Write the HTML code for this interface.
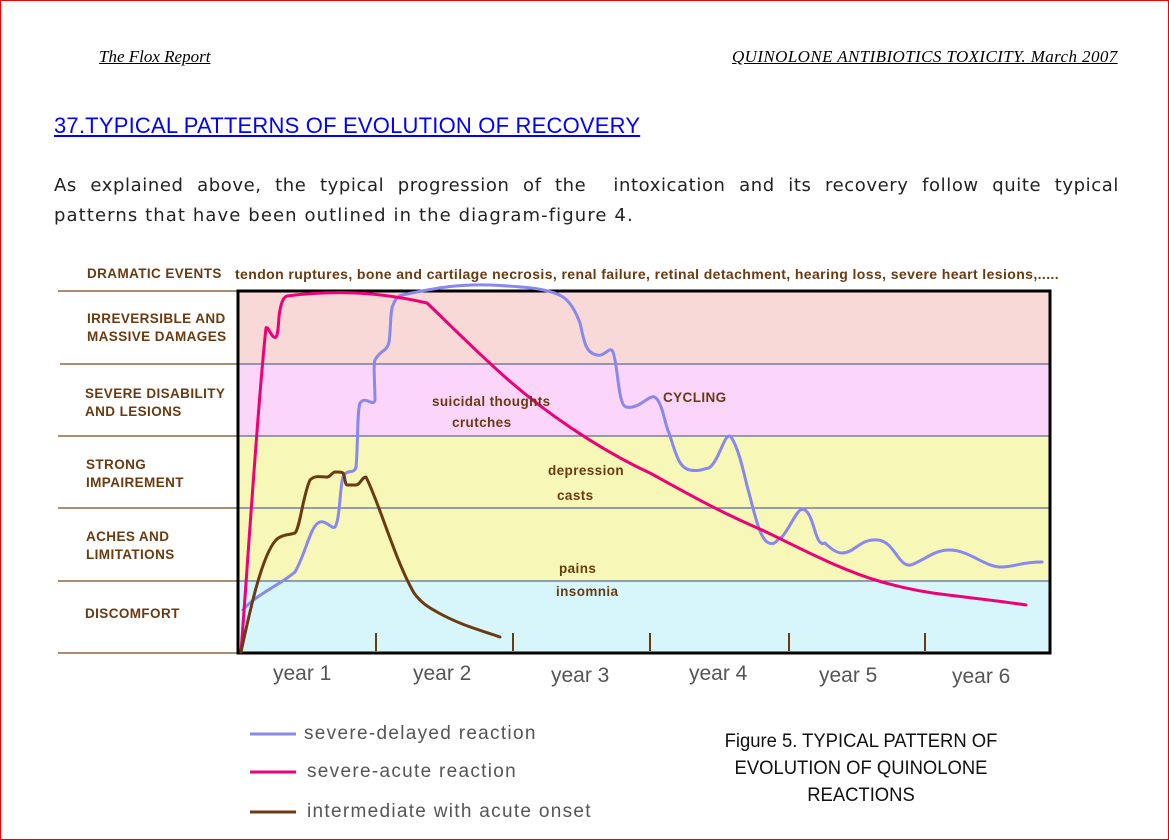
<!DOCTYPE html>
<html><head><meta charset="utf-8"><style>
body{margin:0;background:#fff;}
#p{position:relative;width:1167px;height:838px;border:1px solid #e00;overflow:hidden;font-family:"Liberation Sans",sans-serif;}
.t{position:absolute;white-space:nowrap;}
.s{font-family:"Liberation Serif",serif;font-style:italic;font-size:17px;text-decoration:underline;top:46px;}
.lab{position:absolute;font-weight:bold;font-size:13.5px;color:#6b3a10;line-height:18px;letter-spacing:0.4px;}
.yr{position:absolute;font-size:21px;color:#555;top:661px;}
.lg{position:absolute;font-size:19px;color:#555;letter-spacing:1.3px;}
.para{position:absolute;left:53px;width:1065px;font-family:"DejaVu Sans",sans-serif;font-size:18px;color:#222;letter-spacing:1.1px;}
</style></head><body><div id="p">
<div class="t s" style="left:98px">The Flox Report</div>
<div class="t s" style="left:731px;letter-spacing:0.4px">QUINOLONE ANTIBIOTICS TOXICITY. March 2007</div>
<div class="t" style="left:53px;top:112px;font-size:22px;color:#00f;text-decoration:underline;letter-spacing:0.2px">37.TYPICAL PATTERNS OF EVOLUTION OF RECOVERY</div>
<div class="para" style="top:174px;text-align:justify;text-align-last:justify;letter-spacing:0.6px">As explained above, the typical progression of the &nbsp;intoxication and its recovery follow quite typical</div>
<div class="para" style="top:204px">patterns that have been outlined in the diagram-figure 4.</div>
<svg width="1169" height="840" style="position:absolute;left:-1px;top:-1px">
<rect x="238" y="291" width="812" height="73" fill="#f9d8d8"/>
<rect x="238" y="364" width="812" height="72" fill="#fbd6fa"/>
<rect x="238" y="436" width="812" height="145" fill="#f7f7b8"/>
<rect x="238" y="581" width="812" height="72" fill="#d6f6fc"/>
<g stroke="#5a6a9a" stroke-width="1.3"><line x1="238" y1="364" x2="1050" y2="364"/><line x1="238" y1="436" x2="1050" y2="436"/><line x1="238" y1="508" x2="1050" y2="508"/><line x1="238" y1="581" x2="1050" y2="581"/></g>
<g stroke="#8a6a40" stroke-width="1.5"><line x1="58" y1="291" x2="238" y2="291"/><line x1="60" y1="364" x2="238" y2="364"/><line x1="58" y1="436" x2="238" y2="436"/><line x1="58" y1="508" x2="238" y2="508"/><line x1="58" y1="581" x2="238" y2="581"/><line x1="58" y1="653" x2="238" y2="653"/></g>
<rect x="238" y="291" width="812" height="362" fill="none" stroke="#000" stroke-width="3"/>
<g stroke="#6b3a10" stroke-width="2"><line x1="376" y1="633" x2="376" y2="651"/><line x1="513" y1="633" x2="513" y2="651"/><line x1="650" y1="633" x2="650" y2="651"/><line x1="789" y1="633" x2="789" y2="651"/><line x1="925" y1="633" x2="925" y2="651"/></g>
<g fill="none" stroke-width="3" stroke-linejoin="round" stroke-linecap="round">
<path stroke="#8888ee" d="M243,610 C255,595 280,585 295,572 C305,555 310,528 318,523 C325,518 332,530 335,527 C340,520 340,485 343,477 C347,468 354,475 356,467 C358,450 357,410 360,403 C366,395 373,408 375,400 C375,385 373,363 375,360 C380,350 387,352 389,342 C391,330 390,310 393,305 C396,298 398,296 402,295 C440,287 460,284 490,285 C530,287 550,289 563,297 C572,303 577,315 580,323 C584,340 585,353 597,355 C605,357 610,345 613,352 C618,365 618,405 626,407 C640,410 650,392 656,398 C663,405 665,425 669,433 C675,450 678,468 690,470 C700,472 705,468 709,468 C720,460 725,430 731,437 C740,450 745,480 749,493 C755,515 760,540 769,543 C776,546 778,537 782,537 C792,525 798,505 805,510 C815,517 815,548 825,543 C832,550 838,553 842,553 C855,553 860,538 878,540 C895,542 898,567 911,565 C925,560 935,549 951,550 C970,551 985,567 1001,567 C1015,567 1020,562 1042,562"/>
<path stroke="#ee0077" d="M241,652 C248,560 258,400 266,328 C268,325 272,340 276,337 C279,333 278,318 280,310 C282,300 284,297 287,296 C310,293 330,292 356,293 C380,294 405,298 427,303 C450,325 470,345 494,367 C540,410 600,450 650,473 C690,495 720,512 762,530 C800,548 840,570 882,582 C910,590 930,593 948,595 C980,599 1000,601 1026,605"/>
<path stroke="#6b3a10" d="M241,652 C250,610 262,555 276,540 C282,534 290,535 295,533 C300,528 303,495 310,480 C315,475 320,477 326,477 C330,478 332,472 335,472 C340,472 341,472 343,473 C345,476 345,485 347,485 C352,485 353,485 356,485 C360,485 362,477 366,477 C380,505 395,560 414,593 C422,604 430,608 437,612 C460,625 480,630 500,637"/>
</g>
<g stroke-width="3"><line x1="250" y1="734" x2="296" y2="734" stroke="#8888ee"/><line x1="250" y1="772" x2="296" y2="772" stroke="#ee0077"/><line x1="250" y1="812" x2="296" y2="812" stroke="#6b3a10"/></g>
</svg>
<div class="lab" style="left:86px;top:264px">DRAMATIC EVENTS</div>
<div class="lab" style="left:234px;top:264px;font-size:14px;letter-spacing:0.4px">tendon ruptures, bone and cartilage necrosis, renal failure, retinal detachment, hearing loss, severe heart lesions,.....</div>
<div class="lab" style="left:86px;top:309px">IRREVERSIBLE AND<br>MASSIVE DAMAGES</div>
<div class="lab" style="left:84px;top:384px">SEVERE DISABILITY<br>AND LESIONS</div>
<div class="lab" style="left:85px;top:455px">STRONG<br>IMPAIREMENT</div>
<div class="lab" style="left:85px;top:527px">ACHES AND<br>LIMITATIONS</div>
<div class="lab" style="left:84px;top:604px">DISCOMFORT</div>
<div class="lab" style="left:431px;top:392px">suicidal thoughts</div>
<div class="lab" style="left:451px;top:413px">crutches</div>
<div class="lab" style="left:662px;top:388px">CYCLING</div>
<div class="lab" style="left:547px;top:461px">depression</div>
<div class="lab" style="left:556px;top:486px">casts</div>
<div class="lab" style="left:558px;top:559px">pains</div>
<div class="lab" style="left:555px;top:582px">insomnia</div>
<div class="yr" style="left:272px">year 1</div>
<div class="yr" style="left:412px">year 2</div>
<div class="yr" style="left:550px;top:663px">year 3</div>
<div class="yr" style="left:688px">year 4</div>
<div class="yr" style="left:818px;top:663px">year 5</div>
<div class="yr" style="left:951px;top:664px">year 6</div>
<div class="lg" style="left:303px;top:722px">severe-delayed reaction</div>
<div class="lg" style="left:306px;top:760px">severe-acute reaction</div>
<div class="lg" style="left:306px;top:800px">intermediate with acute onset</div>
<div class="t" style="left:700px;top:727px;width:320px;text-align:center;font-size:19px;line-height:27px;color:#111;transform:scaleX(0.97);transform-origin:center">Figure 5. TYPICAL PATTERN OF<br>EVOLUTION OF QUINOLONE<br>REACTIONS</div>
</div></body></html>
